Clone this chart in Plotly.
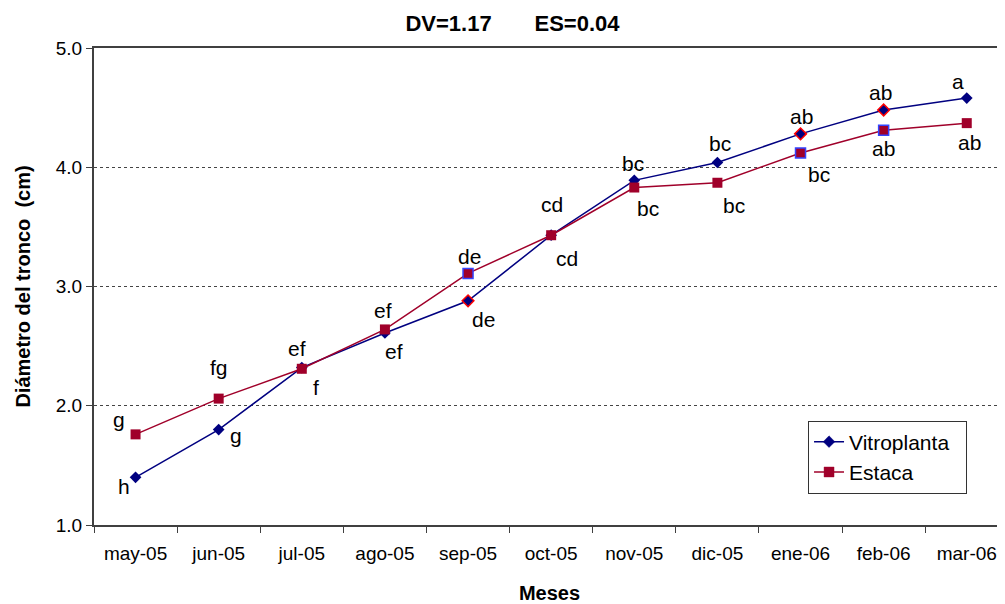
import plotly.graph_objects as go

meses = ["may-05", "jun-05", "jul-05", "ago-05", "sep-05", "oct-05",
         "nov-05", "dic-05", "ene-06", "feb-06", "mar-06"]
vitroplanta = [1.40, 1.80, 2.32, 2.61, 2.88, 3.43, 3.89, 4.04, 4.28, 4.48, 4.58]
estaca = [1.76, 2.06, 2.31, 2.64, 3.11, 3.43, 3.83, 3.87, 4.12, 4.31, 4.37]
letras_vitro = ["h", "g", "ef", "ef", "de", "cd", "bc", "bc", "ab", "ab", "a"]
letras_estaca = ["g", "fg", "f", "ef", "de", "cd", "bc", "bc", "bc", "ab", "ab"]
resaltado = [False, False, False, False, True, False, False, False, True, True, False]

# label offsets in pixels (dx right, dy down)
off_vitro = [(-12, 9), (17, 6), (-5, -19), (9, 18), (15, 19), (16, 23),
             (-1, -17), (3, -19), (1, -17), (-3, -18), (-9, -17)]
off_estaca = [(-17, -15), (0, -31), (14, 19), (-2, -19), (1, -17), (1, -31),
              (14, 21), (17, 23), (18, 22), (0, 18), (3, 19)]

NAVY = "#000080"
RED = "#A0002A"
FONT = "Liberation Sans, Arial, sans-serif"
NB = "\u00a0"

fig = go.Figure()
fig.add_trace(go.Scatter(
    x=meses, y=vitroplanta, name="Vitroplanta" + NB * 2, mode="lines+markers",
    line=dict(color=NAVY, width=1.5),
    marker=dict(symbol="diamond", size=9, color=NAVY,
                line=dict(color=["#FF0000" if r else NAVY for r in resaltado],
                          width=[1.5 if r else 0 for r in resaltado])),
))
fig.add_trace(go.Scatter(
    x=meses, y=estaca, name="Estaca", mode="lines+markers",
    line=dict(color=RED, width=1.5),
    marker=dict(symbol="square", size=10, color=RED,
                line=dict(color=["#3344FF" if r else RED for r in resaltado],
                          width=[1.5 if r else 0 for r in resaltado])),
))

for xs, ys, labs, offs in [(meses, vitroplanta, letras_vitro, off_vitro),
                           (meses, estaca, letras_estaca, off_estaca)]:
    for x, y, t, (dx, dy) in zip(xs, ys, labs, offs):
        fig.add_annotation(x=x, y=y, text=t, showarrow=False,
                           xshift=dx, yshift=-dy,
                           font=dict(family=FONT, size=21, color="black"))

fig.update_layout(
    width=997, height=596,
    margin=dict(l=86, r=0, t=40, b=75),
    paper_bgcolor="white", plot_bgcolor="white",
    font=dict(family=FONT, color="black"),
    title=dict(text="DV=1.17" + NB * 7 + "ES=0.04",
               x=0.506, xref="container", xanchor="center",
               y=0.975, yref="container", yanchor="middle",
               font=dict(family=FONT, size=22, color="black", weight="bold")),
    showlegend=True,
    legend=dict(x=0.7838, y=0.219, xanchor="left", yanchor="top",
                xref="paper", yref="paper",
                bordercolor="#333333", borderwidth=1, bgcolor="white",
                font=dict(family=FONT, size=21, color="black"),
                tracegroupgap=0),
)
fig.update_xaxes(
    type="category", categoryorder="array", categoryarray=meses,
    range=[-0.5, 10.46],
    showline=True, linecolor="#404040", linewidth=2, mirror=True,
    ticks="outside", tickson="boundaries", ticklen=6, tickcolor="#404040",
    tickfont=dict(family=FONT, size=19, color="black"),
    ticklabelstandoff=10,
    showgrid=False, zeroline=False,
    title=dict(text="<b>Meses</b>", font=dict(family=FONT, size=20, color="black"),
               standoff=26),
)
fig.update_yaxes(
    range=[1, 5], dtick=1, tick0=1, tickformat=".1f",
    showline=True, linecolor="#404040", linewidth=2,
    ticks="outside", ticklen=6, tickcolor="#404040",
    tickfont=dict(family=FONT, size=19, color="black"),
    showgrid=True, gridcolor="#444444", griddash="dot", gridwidth=1,
    zeroline=False,
    title=dict(text="<b>Diámetro del tronco  (cm)</b>",
               font=dict(family=FONT, size=20, color="black"), standoff=20),
)

fig.write_html("out.html")
